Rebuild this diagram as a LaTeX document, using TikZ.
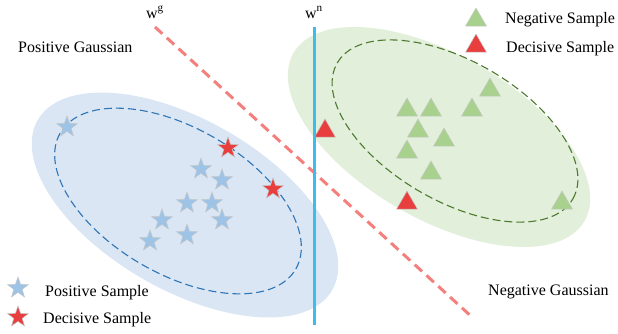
\documentclass[tikz,border=0pt]{standalone}
\usepackage{fontspec}
\setmainfont{Liberation Serif}
\usepackage{xcolor}
\usetikzlibrary{positioning,shapes.geometric}

\definecolor{posfill}{HTML}{DAE6F4}
\definecolor{posline}{HTML}{2E75B6}
\definecolor{negfill}{HTML}{E2EFDA}
\definecolor{negline}{HTML}{4E7A30}
\definecolor{starblue}{HTML}{9DC3E6}
\definecolor{trigreen}{HTML}{A9D18E}
\definecolor{decred}{HTML}{E83E3E}
\definecolor{wnblue}{HTML}{3CBDEC}
\definecolor{wgred}{HTML}{F4807E}

\begin{document}
\begin{tikzpicture}[x=1pt, y=-1pt,
    every node/.style={font=\fontsize{16}{19}\selectfont},
    gauss/.style={ellipse, rotate=-30, inner sep=0pt},
    bound/.style={gauss, draw, line width=1.1pt, dash pattern=on 8pt off 4pt},
    starmark/.style={star, star points=5, star point ratio=2.5, minimum size=22pt, inner sep=0pt, draw=black!22, line width=0.5pt},
    trimark/.style={regular polygon, regular polygon sides=3, minimum size=24pt, inner sep=0pt, draw=black!22, line width=0.5pt},
    txt/.style={anchor=base west, inner sep=0pt},
    wlabel/.style={anchor=base, inner sep=0pt}
  ]
    \useasboundingbox (0,0) rectangle (618,333);

    % gaussians
    \node[gauss, fill=posfill, minimum width=340pt, minimum height=170pt] (posgauss) at (185,205) {};
    \node[gauss, fill=negfill, minimum width=336pt, minimum height=164pt] (neggauss) at (439,137) {};
    \node[bound, draw=posline, minimum width=272pt, minimum height=146pt] (posbound) at (178,201) {};
    \node[bound, draw=negline, minimum width=272pt, minimum height=140pt] (negbound) at (455,131) {};

    % samples
    \foreach \x/\y [count=\i] in {67/127,201/169,222/180,187/203,212/203,222/220,162/220,187/235,150/241}
      \node[starmark, fill=starblue] (pos\i) at (\x,\y) {};
    \node[starmark, fill=decred] (posdec1) at (228,148) {};
    \node[starmark, fill=decred] (posdec2) at (273,189) {};
    \foreach \x/\y [count=\i] in {490/90,407/110,431/110,472/110,418/131,444/140,407/152,431/173,562/203}
      \node[trimark, fill=trigreen] (neg\i) at (\x,\y) {};
    \node[trimark, fill=decred] (negdec1) at (325,131) {};
    \node[trimark, fill=decred] (negdec2) at (407,203) {};

    % classifiers
    \coordinate (wgtop) at (155,27);
    \coordinate (wgbot) at (473,318);
    \coordinate (wntop) at (314,27);
    \coordinate (wnbot) at (314,325);
    \draw[wgred, line width=3pt, dash pattern=on 10pt off 6pt] (wgtop) -- (wgbot);
    \draw[wnblue, line width=3pt] (wntop) -- (wnbot);
    \node[wlabel] (wg) at (155,18) {w\textsuperscript{g}};
    \node[wlabel] (wn) at (314,18) {w\textsuperscript{n}};

    \node[txt] (posname) at (18,52) {Positive Gaussian};
    \node[txt] (negname) at (488,295) {Negative Gaussian};

    % legends
    \node[trimark, fill=trigreen] (legneg) at (476,20) {};
    \node[trimark, fill=decred] (legnegdec) at (476,46) {};
    \node[txt] (legnegtxt) at (505,23) {Negative Sample};
    \node[txt] (legnegdectxt) at (506,52) {Decisive Sample};
    \node[starmark, fill=starblue] (legpos) at (18,288) {};
    \node[starmark, fill=decred] (legposdec) at (18,317) {};
    \node[txt] (legpostxt) at (45,296) {Positive Sample};
    \node[txt] (legposdectxt) at (43,323) {Decisive Sample};
  \end{tikzpicture}
\end{document}
